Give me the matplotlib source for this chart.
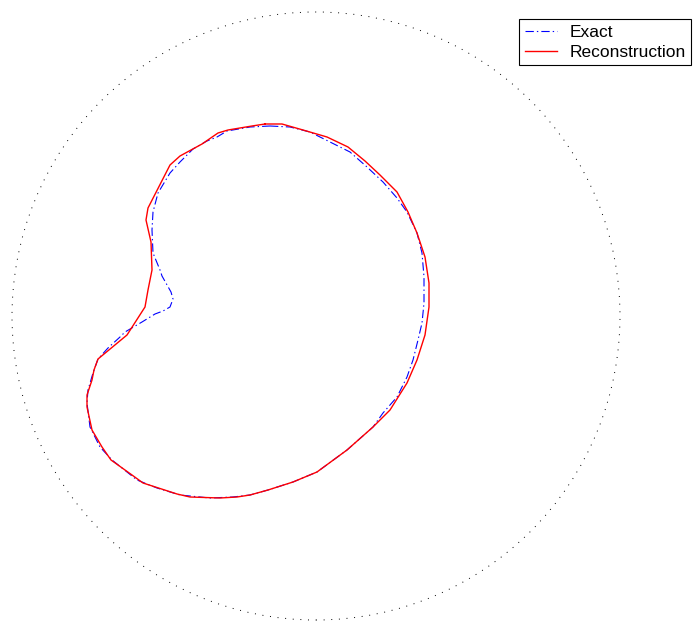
import matplotlib
matplotlib.use("Agg")
import matplotlib.pyplot as plt
from matplotlib.patches import Circle

plt.rcParams["font.family"] = ["Liberation Sans", "DejaVu Sans"]
plt.rcParams["lines.scale_dashes"] = False

# Radius of the measurement circle
measurement_radius = 3.04

# Exact boundary of the obstacle (closed curve)
exact_x = [-0.46, -0.26, -0.06, 0.14, 0.34, 0.51, 0.67, 0.81, 0.91, 1.01,
           1.06, 1.08, 1.08, 1.06, 1.02, 0.97, 0.91, 0.81, 0.67, 0.57,
           0.31, 0.01, -0.23, -0.48, -0.66, -0.83, -1.06, -1.36, -1.59, -1.79,
           -2.04, -2.16, -2.26, -2.29, -2.28, -2.23, -2.18, -2.08, -1.96, -1.91,
           -1.74, -1.61, -1.53, -1.46, -1.43, -1.45, -1.54, -1.56, -1.63, -1.64,
           -1.63, -1.58, -1.46, -1.36, -1.23, -1.09, -0.99, -0.89, -0.66, -0.46]
exact_y = [1.90, 1.89, 1.84, 1.74, 1.64, 1.49, 1.34, 1.18, 1.04, 0.83,
           0.63, 0.39, 0.13, -0.07, -0.24, -0.44, -0.61, -0.81, -0.97, -1.11,
           -1.34, -1.56, -1.66, -1.74, -1.79, -1.81, -1.82, -1.79, -1.72, -1.64,
           -1.44, -1.31, -1.11, -0.87, -0.74, -0.57, -0.43, -0.32, -0.21, -0.16,
           -0.06, 0.02, 0.05, 0.09, 0.17, 0.24, 0.40, 0.46, 0.63, 0.86,
           1.04, 1.23, 1.43, 1.54, 1.67, 1.75, 1.79, 1.85, 1.89, 1.90]

# Reconstructed boundary (closed curve)
recon_x = [-0.51, -0.34, -0.13, 0.11, 0.32, 0.49, 0.64, 0.81, 0.92, 1.01,
           1.09, 1.13, 1.13, 1.09, 1.01, 0.91, 0.74, 0.57, 0.31, 0.01,
           -0.23, -0.48, -0.66, -0.79, -0.96, -1.26, -1.39, -1.73, -1.84, -2.05,
           -2.14, -2.24, -2.29, -2.29, -2.24, -2.22, -2.18, -1.89, -1.71, -1.68,
           -1.64, -1.65, -1.70, -1.68, -1.46, -1.36, -1.14, -0.98, -0.88, -0.64,
           -0.51]
recon_y = [1.92, 1.92, 1.86, 1.79, 1.69, 1.55, 1.41, 1.24, 1.04, 0.83,
           0.59, 0.33, 0.09, -0.19, -0.44, -0.67, -0.94, -1.11, -1.34, -1.56,
           -1.66, -1.74, -1.79, -1.81, -1.82, -1.81, -1.78, -1.67, -1.59, -1.44,
           -1.31, -1.14, -0.91, -0.79, -0.64, -0.54, -0.43, -0.19, 0.09, 0.26,
           0.46, 0.74, 0.96, 1.08, 1.51, 1.60, 1.72, 1.83, 1.86, 1.90,
           1.92]

fig = plt.figure(figsize=(6.93, 6.29), dpi=100)
ax = fig.add_axes([0, 0, 1, 1])
ax.set_xlim(-3.16, 3.77)
ax.set_ylim(-3.13, 3.16)
ax.axis("off")

ax.add_patch(Circle((0, 0), measurement_radius, fill=False, edgecolor="black",
                    linewidth=0.7, linestyle=(0, (0.7, 4.8))))

ax.plot(exact_x, exact_y, color="blue", linewidth=0.8,
        linestyle=(0, (6.0, 2.2, 1.0, 2.2)), label="Exact")
ax.plot(recon_x, recon_y, color="red", linewidth=1.0, label="Reconstruction")

leg = fig.legend(loc="upper right", bbox_to_anchor=(691 / 693, 1 - 19 / 629),
                 bbox_transform=fig.transFigure, borderaxespad=0,
                 fontsize=12.5, fancybox=False, framealpha=1, edgecolor="black",
                 handlelength=1.85, handletextpad=0.7, borderpad=0.32,
                 labelspacing=0.28)
leg.get_frame().set_linewidth(0.8)

fig.savefig("out.png", dpi=100)
